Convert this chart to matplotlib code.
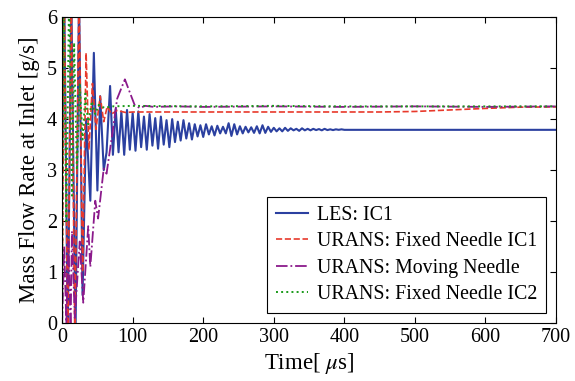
import matplotlib
matplotlib.use('Agg')
import matplotlib.pyplot as plt

plt.rcParams['font.family'] = ['Liberation Serif', 'DejaVu Serif']
plt.rcParams['mathtext.fontset'] = 'stix'

# LES: IC1
les_t = [0, 3, 8, 13, 19, 24, 29, 34, 40, 45, 50, 54, 59, 63, 68,
         72, 76, 80, 84, 88, 92, 96, 100, 104, 108, 112, 116, 120, 124, 128, 132,
         136, 140, 144, 148, 152, 156, 160, 164, 168, 172, 176, 180, 184, 188, 192, 196,
         200, 204, 208, 212, 216, 220, 224, 228, 232, 236, 240, 244, 248, 252, 256, 260,
         264, 268, 272, 276, 280, 284, 288, 292, 296, 300, 304, 308, 312, 316, 320, 324,
         328, 332, 336, 340, 344, 348, 352, 356, 360, 364, 368, 372, 376, 380, 384, 388,
         392, 396, 400, 450, 700]
les_v = [3.0, 6.5, -0.3, 6.5, -0.3, 6.5, 0.55, 4.0, 2.4, 5.3, 2.6, 4.45, 3.0, 3.35, 4.65,
         3.30, 4.20, 3.35, 4.15, 3.30, 4.18, 3.40, 4.12, 3.38, 4.15, 3.45, 4.05, 3.40, 4.10, 3.48, 4.02,
         3.42, 4.05, 3.50, 3.98, 3.45, 4.00, 3.55, 3.95, 3.58, 3.98, 3.62, 3.92, 3.60, 3.90, 3.66, 3.88,
         3.65, 3.90, 3.70, 3.86, 3.68, 3.87, 3.72, 3.85, 3.72, 3.92, 3.67, 3.90, 3.70, 3.86, 3.72, 3.85,
         3.74, 3.84, 3.73, 3.86, 3.72, 3.88, 3.73, 3.85, 3.75, 3.83, 3.76, 3.82, 3.76, 3.83, 3.77, 3.82,
         3.78, 3.81, 3.77, 3.82, 3.78, 3.81, 3.78, 3.81, 3.785, 3.805, 3.78, 3.81, 3.785, 3.80, 3.785, 3.80,
         3.79, 3.80, 3.79, 3.79, 3.79]

# URANS: Fixed Needle IC1
fix1_t = [0, 3, 8, 13, 18, 24, 29, 34, 38, 43, 48, 54, 59, 64, 70, 78, 90, 100,
          450, 500, 550, 600, 650, 700]
fix1_v = [0.0, 6.5, -0.3, 6.5, -0.3, 6.5, 1.0, 5.3, 3.4, 4.7, 3.8, 4.45, 3.95, 4.25, 4.1, 4.17, 4.13, 4.14,
          4.14, 4.15, 4.18, 4.21, 4.235, 4.24]

# URANS: Moving Needle
mov_t = [0, 3, 6, 9, 12, 14, 18, 25, 30, 37, 40, 47, 51, 59, 63, 71, 78, 89, 98, 103,
         110, 118, 130, 160, 200, 300, 400, 500, 600, 700]
mov_v = [0.0, 1.5, 0.0, 1.6, -0.1, 1.8, 0.1, 1.6, 0.4, 1.9, 1.1, 2.4, 2.05, 3.03, 2.93, 3.7, 4.4, 4.78, 4.45, 4.27,
         4.22, 4.26, 4.24, 4.25, 4.24, 4.25, 4.24, 4.25, 4.24, 4.25]

# URANS: Fixed Needle IC2
fix2_t = [0, 2, 6, 10, 14, 17, 21, 25, 29, 33, 37, 42, 47, 52, 60, 70, 100, 200, 300, 400, 500, 600, 700]
fix2_v = [0.0, 6.5, 2.0, 6.5, 2.5, 5.5, 3.0, 4.7, 3.6, 4.5, 3.9, 4.35, 4.1, 4.28, 4.22, 4.25,
          4.26, 4.25, 4.26, 4.25, 4.25, 4.25, 4.25]

fig = plt.figure(figsize=(5.75, 3.81), dpi=100)
ax = fig.add_axes([0.108, 0.152, 0.859, 0.803])

ax.plot(les_t, les_v, '-', color='#2b40a0', lw=1.5, label='LES: IC1')
ax.plot(fix1_t, fix1_v, '--', color='#e8392b', lw=1.2, label='URANS: Fixed Needle IC1')
ax.plot(mov_t, mov_v, '-.', color='#8b1a8b', lw=1.3, label='URANS: Moving Needle')
ax.plot(fix2_t, fix2_v, ':', color='#1a9a1a', lw=1.4, label='URANS: Fixed Needle IC2')

ax.set_xlim(0, 700)
ax.set_ylim(0, 6)
ax.set_xticks([0, 100, 200, 300, 400, 500, 600, 700])
ax.set_yticks([0, 1, 2, 3, 4, 5, 6])
ax.tick_params(direction='in', top=True, right=True, length=4, labelsize=14.5)
ax.set_xlabel('Time[ $\\mu$s]', fontsize=16.5, labelpad=3)
ax.set_ylabel('Mass Flow Rate at Inlet [g/s]', fontsize=16.5, labelpad=5)

leg = ax.legend(loc='lower right', fontsize=14.3, fancybox=False, edgecolor='black',
                framealpha=1, borderaxespad=0.5, handlelength=1.6, handletextpad=0.45,
                labelspacing=0.38, borderpad=0.45)
leg.get_frame().set_linewidth(0.8)

plt.savefig('out.png', dpi=100)
